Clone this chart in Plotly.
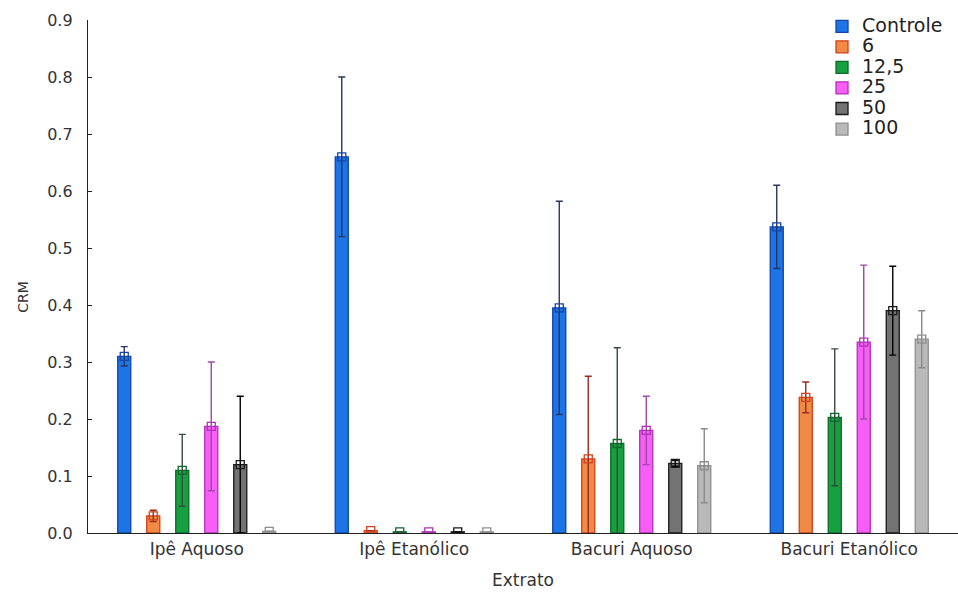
import plotly.graph_objects as go

extratos = ["Ipê Aquoso", "Ipê Etanólico", "Bacuri Aquoso", "Bacuri Etanólico"]
doses = ["Controle", "6", "12,5", "25", "50", "100"]

# mean CRM per dose, in the order of `extratos`
crm_controle = [0.310, 0.660, 0.395, 0.537]
crm_6 = [0.030, 0.004, 0.130, 0.238]
crm_12_5 = [0.110, 0.002, 0.157, 0.203]
crm_25 = [0.187, 0.002, 0.180, 0.335]
crm_50 = [0.120, 0.002, 0.122, 0.390]
crm_100 = [0.003, 0.002, 0.118, 0.340]

# half-width of the error bars
err_controle = [0.017, 0.140, 0.187, 0.073]
err_6 = [0.010, 0.0, 0.145, 0.027]
err_12_5 = [0.063, 0.0, 0.168, 0.120]
err_25 = [0.113, 0.0, 0.060, 0.135]
err_50 = [0.120, 0.0, 0.005, 0.078]
err_100 = [0.0, 0.0, 0.065, 0.050]

means = [crm_controle, crm_6, crm_12_5, crm_25, crm_50, crm_100]
errors = [err_controle, err_6, err_12_5, err_25, err_50, err_100]

fills = ["#1c74e6", "#f08a45", "#16a040", "#f65ef6", "#737373", "#b9b9b9"]
edges = ["#1245a8", "#d0401c", "#0d6a2a", "#b030b8", "#1a1a1a", "#8e8e8e"]
whisk = ["#2a3560", "#9a2a22", "#3a4a40", "#a048a8", "#000000", "#8a8a8a"]

FONT = "DejaVu Sans, Liberation Sans, Arial, sans-serif"

fig = go.Figure()
for name, m, e, fc, ec, wc in zip(doses, means, errors, fills, edges, whisk):
    fig.add_trace(go.Bar(
        x=extratos, y=m, offsetgroup=name,
        name=f"<span style='font-size:19px'>{name}</span>",
        marker=dict(color=fc, line=dict(color=ec, width=1.3)),
        error_y=dict(type="data", array=e, color=wc, thickness=1.4, width=3.5),
    ))
# hollow square on top of each bar marking the mean
for name, m, ec in zip(doses, means, edges):
    fig.add_trace(go.Scatter(
        x=extratos, y=m, mode="markers", showlegend=False, hoverinfo="skip",
        offsetgroup=name,
        marker=dict(symbol="square-open", size=8, color=ec, line=dict(width=1.3)),
    ))

fig.add_annotation(
    text="CRM", textangle=-90, xref="paper", yref="paper",
    x=-0.075, y=0.46, xanchor="center", yanchor="middle", showarrow=False,
    font=dict(family=FONT, size=14, color="#333333"),
)

fig.update_layout(
    width=958, height=592,
    paper_bgcolor="white", plot_bgcolor="white",
    margin=dict(l=88, r=0, t=20, b=59),
    barmode="group", bargap=0.2, bargroupgap=0.55,
    scattermode="group", scattergap=0.2,
    font=dict(family=FONT, color="#333333"),
    legend=dict(
        x=0.8437, xanchor="left", y=1.0175, yanchor="top",
        font=dict(size=13.5, color="#222222"),
        bgcolor="rgba(255,255,255,0)", tracegroupgap=0, itemwidth=30,
    ),
    xaxis=dict(
        title=dict(text="Extrato", font=dict(size=17), standoff=16),
        showline=True, linecolor="#222222", linewidth=1.3,
        ticks="", tickfont=dict(size=17, color="#333333"),
        showgrid=False, zeroline=False,
    ),
    yaxis=dict(
        range=[0, 0.9], dtick=0.1, tickformat=".1f",
        showline=True, linecolor="#222222", linewidth=1.3,
        ticks="inside", ticklen=4, tickcolor="#222222", ticklabelstandoff=11,
        tickfont=dict(size=16, color="#333333"),
        showgrid=False, zeroline=False,
    ),
)

fig.write_html("out.html")
